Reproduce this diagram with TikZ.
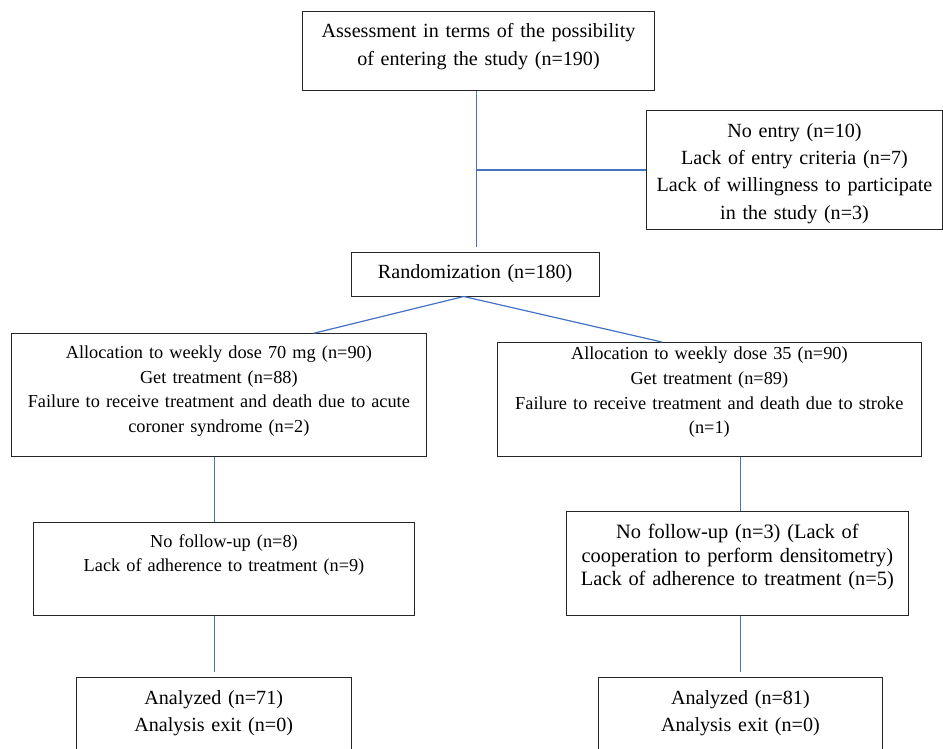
\documentclass[tikz,border=0pt]{standalone}
\usepackage{fontspec}
\setmainfont{Liberation Serif}
\usepackage{tikz}
\usetikzlibrary{calc}
\definecolor{linkblue}{RGB}{68,114,196}

\begin{document}
\begin{tikzpicture}[x=1pt, y=-1pt,
		box/.style={draw=black!85, line width=1pt, inner sep=0pt, anchor=north west, align=center},
		largetext/.style={font=\fontsize{20.1}{27.3}\selectfont},
		smalltext/.style={font=\fontsize{18.3}{24.6}\selectfont},
		link/.style={draw=linkblue, line width=1.2pt}]
		%%%%% START %%%%%
		\useasboundingbox (0, 0) rectangle (943, 749);
		
		\node[box, largetext, text width=352pt, text height=26.3pt, text depth=52.7pt] (assess) at (302, 11)
			{Assessment in terms of the possibility\\of entering the study (n=190)};
		\node[box, largetext, text width=296pt, text height=26.7pt, text depth=92.3pt] (noentry) at (646, 110)
			{No entry (n=10)\\Lack of entry criteria (n=7)\\Lack of willingness to participate\\in the study (n=3)};
		\node[box, largetext, text width=248pt, text height=25.7pt, text depth=17.8pt] (random) at (350.7, 252)
			{Randomization (n=180)};
		
		\node[box, smalltext, text width=414.7pt, text height=24.7pt, text depth=97.7pt] (alloc70) at (11, 333.3)
			{Allocation to weekly dose 70 mg (n=90)\\Get treatment (n=88)\\Failure to receive treatment and death due to acute\\coroner syndrome (n=2)};
		\node[box, smalltext, text width=423.7pt, text height=17.3pt, text depth=96.4pt] (alloc35) at (497, 342)
			{Allocation to weekly dose 35 (n=90)\\Get treatment (n=89)\\Failure to receive treatment and death due to stroke\\(n=1)};
		
		\node[box, smalltext, text width=381.6pt, text height=25pt, text depth=68pt] (follow8) at (32.7, 521.7)
			{No follow-up (n=8)\\Lack of adherence to treatment (n=9)};
		\node[box, font=\fontsize{20.4}{23.4}\selectfont, text width=341.7pt, text height=27pt, text depth=76.4pt] (follow3) at (566, 511.3)
			{No follow-up (n=3) (Lack of\\cooperation to perform densitometry)\\Lack of adherence to treatment (n=5)};
		
		\node[box, largetext, text width=274.8pt, text height=27pt, text depth=63pt] (ana71) at (75.8, 677)
			{Analyzed (n=71)\\Analysis exit (n=0)};
		\node[box, largetext, text width=283.2pt, text height=27pt, text depth=63pt] (ana81) at (598.3, 677)
			{Analyzed (n=81)\\Analysis exit (n=0)};
		
		\coordinate (trunk) at (476.2, 0);
		\coordinate (split) at ($(random.south west)!0.454!(random.south east)$);
		\coordinate (lefttrunk) at (214.2, 0);
		\coordinate (righttrunk) at (740.3, 0);
		
		\draw[link, shorten >=5pt] (assess.south -| trunk) -- (random.north -| trunk);
		\draw[link] (trunk |- noentry.west) -- (noentry.west);
		\draw[link] (split) -- ($(alloc70.north west)!0.728!(alloc70.north east)$);
		\draw[link] (split) -- ($(alloc35.north west)!0.388!(alloc35.north east)$);
		
		\draw[link] (alloc70.south -| lefttrunk) -- (follow8.north -| lefttrunk);
		\draw[link, shorten >=5pt] (follow8.south -| lefttrunk) -- (ana71.north -| lefttrunk);
		\draw[link] (alloc35.south -| righttrunk) -- (follow3.north -| righttrunk);
		\draw[link, shorten >=5pt] (follow3.south -| righttrunk) -- (ana81.north -| righttrunk);
		%%%%% END %%%%%
\end{tikzpicture}
\end{document}
